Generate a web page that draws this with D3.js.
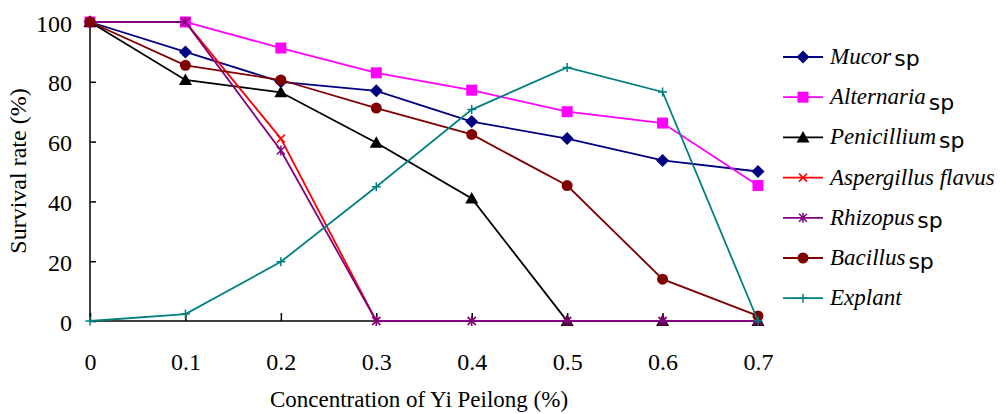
<!DOCTYPE html>
<html>
<head>
<meta charset="utf-8">
<script src="https://cdn.jsdelivr.net/npm/d3@7/dist/d3.min.js"></script>
<style>
body { margin: 0; background: #fff; }
svg text { font-family: "Liberation Serif", "Times New Roman", serif; fill: #000; }
</style>
</head>
<body>
<svg id="chart" width="1006" height="414"></svg>
<script>
const concentrations = [0, 0.1, 0.2, 0.3, 0.4, 0.5, 0.6, 0.7]
const x_tick_labels = ["0", "0.1", "0.2", "0.3", "0.4", "0.5", "0.6", "0.7"]
const y_ticks = [0, 20, 40, 60, 80, 100]

const mucor = [100, 90, 80, 77, 66.7, 61, 53.7, 50]
const alternaria = [100, 100, 91.3, 83, 77.2, 70, 66.2, 45.3]
const penicillium = [100, 80.6, 76.5, 59.6, 41, 0, 0, 0]
const aspergillus = [100, 100, 61, 0, 0, 0, 0, 0]
const rhizopus = [100, 100, 57, 0, 0, 0, 0, 0]
const bacillus = [100, 85.5, 80.6, 71.2, 62.4, 45.3, 14, 1.7]
const explant = [0, 2.3, 19.8, 44.9, 70.7, 84.8, 76.6, 0]

const series = [
	{name: "Mucor", sp: true, values: mucor, color: "#000080", marker: "diamond"},
	{name: "Alternaria", sp: true, values: alternaria, color: "#ff00ff", marker: "square"},
	{name: "Penicillium", sp: true, values: penicillium, color: "#000000", marker: "triangle"},
	{name: "Aspergillus flavus", sp: false, values: aspergillus, color: "#ff0000", marker: "x"},
	{name: "Rhizopus", sp: true, values: rhizopus, color: "#800080", marker: "star"},
	{name: "Bacillus", sp: true, values: bacillus, color: "#800000", marker: "circle"},
	{name: "Explant", sp: false, values: explant, color: "#008080", marker: "plus"}
]

const svg = d3.select("#chart")

const x = d3.scaleLinear().domain([0, 0.7]).range([90, 758])
const y = d3.scaleLinear().domain([0, 100]).range([321, 22])

// axes
const y_axis = d3.axisLeft(y).tickValues(y_ticks).tickSize(-6).tickPadding(18).tickFormat(d3.format("d"))
const gy = svg.append("g").attr("transform", "translate(90,0)").call(y_axis)
gy.select(".domain").attr("stroke", "#000").attr("stroke-width", 1.5).attr("d", "M0," + y(0) + "V" + y(100))
gy.selectAll(".tick line").attr("stroke", "#000").attr("stroke-width", 1.5)
gy.selectAll(".tick text").style("font-size", "24px").attr("dy", "0.38em")

const x_axis = d3.axisBottom(x).tickValues(concentrations).tickSize(-8).tickPadding(32)
	.tickFormat((d, i) => x_tick_labels[i])
const gx = svg.append("g").attr("transform", "translate(0," + y(0) + ")").call(x_axis)
gx.select(".domain").attr("stroke", "#000").attr("stroke-width", 1.5).attr("d", "M" + x(0) + ",0H" + x(0.7))
gx.selectAll(".tick line").attr("stroke", "#000").attr("stroke-width", 1.5)
gx.selectAll(".tick text").style("font-size", "24px").attr("dy", "0.71em")

svg.append("text")
	.attr("x", 419).attr("y", 407)
	.attr("text-anchor", "middle")
	.style("font-size", "23px")
	.text("Concentration of Yi Peilong (%)")

svg.append("text")
	.attr("transform", "translate(26,171) rotate(-90)")
	.attr("text-anchor", "middle")
	.style("font-size", "24px")
	.text("Survival rate (%)")

// markers
function draw_marker(g, type, color, cx, cy) {
	if (type == "diamond") {
		g.append("path").attr("d", `M${cx},${cy-6.5}L${cx+6.5},${cy}L${cx},${cy+6.5}L${cx-6.5},${cy}Z`).attr("fill", color)
	} else if (type == "square") {
		g.append("rect").attr("x", cx-5.5).attr("y", cy-5.5).attr("width", 11).attr("height", 11).attr("fill", color)
	} else if (type == "triangle") {
		g.append("path").attr("d", `M${cx},${cy-6.5}L${cx+6.5},${cy+5}L${cx-6.5},${cy+5}Z`).attr("fill", color)
	} else if (type == "circle") {
		g.append("circle").attr("cx", cx).attr("cy", cy).attr("r", 5.5).attr("fill", color)
	} else if (type == "x") {
		g.append("path").attr("d", `M${cx-4},${cy-4}L${cx+4},${cy+4}M${cx-4},${cy+4}L${cx+4},${cy-4}`)
			.attr("stroke", color).attr("stroke-width", 1.5)
	} else if (type == "star") {
		g.append("path").attr("d", `M${cx-4},${cy-4}L${cx+4},${cy+4}M${cx-4},${cy+4}L${cx+4},${cy-4}M${cx},${cy-5}V${cy+5}`)
			.attr("stroke", color).attr("stroke-width", 1.5)
	} else if (type == "plus") {
		g.append("path").attr("d", `M${cx-4.5},${cy}H${cx+4.5}M${cx},${cy-4.5}V${cy+4.5}`)
			.attr("stroke", color).attr("stroke-width", 1.5)
	}
}

const line = d3.line().x((d, i) => x(concentrations[i])).y(d => y(d))

series.forEach(s => {
	const g = svg.append("g")
	g.append("path").attr("d", line(s.values))
		.attr("fill", "none").attr("stroke", s.color).attr("stroke-width", 1.8)
	s.values.forEach((v, i) => draw_marker(g, s.marker, s.color, x(concentrations[i]), y(v)))
})

// legend
const legend_x = 783
const legend_y = 57
const legend_gap = 40.2
const sp_drop = [2, 6, 4, 0, 3, 4, 0]

series.forEach((s, i) => {
	const ly = legend_y + i * legend_gap
	const g = svg.append("g")
	g.append("line").attr("x1", legend_x).attr("x2", legend_x + 40).attr("y1", ly).attr("y2", ly)
		.attr("stroke", s.color).attr("stroke-width", 1.8)
	draw_marker(g, s.marker, s.color, legend_x + 20, ly)
	const t = g.append("text").attr("x", legend_x + 47).attr("y", ly + 7).style("font-size", "23px")
	t.append("tspan").style("font-style", "italic").text(s.name)
	if (s.sp) {
		t.append("tspan").attr("dx", 3).attr("dy", sp_drop[i])
			.style("font-family", "'DejaVu Sans', sans-serif").style("font-size", "22px").text("sp")
	}
})
</script>
</body>
</html>
